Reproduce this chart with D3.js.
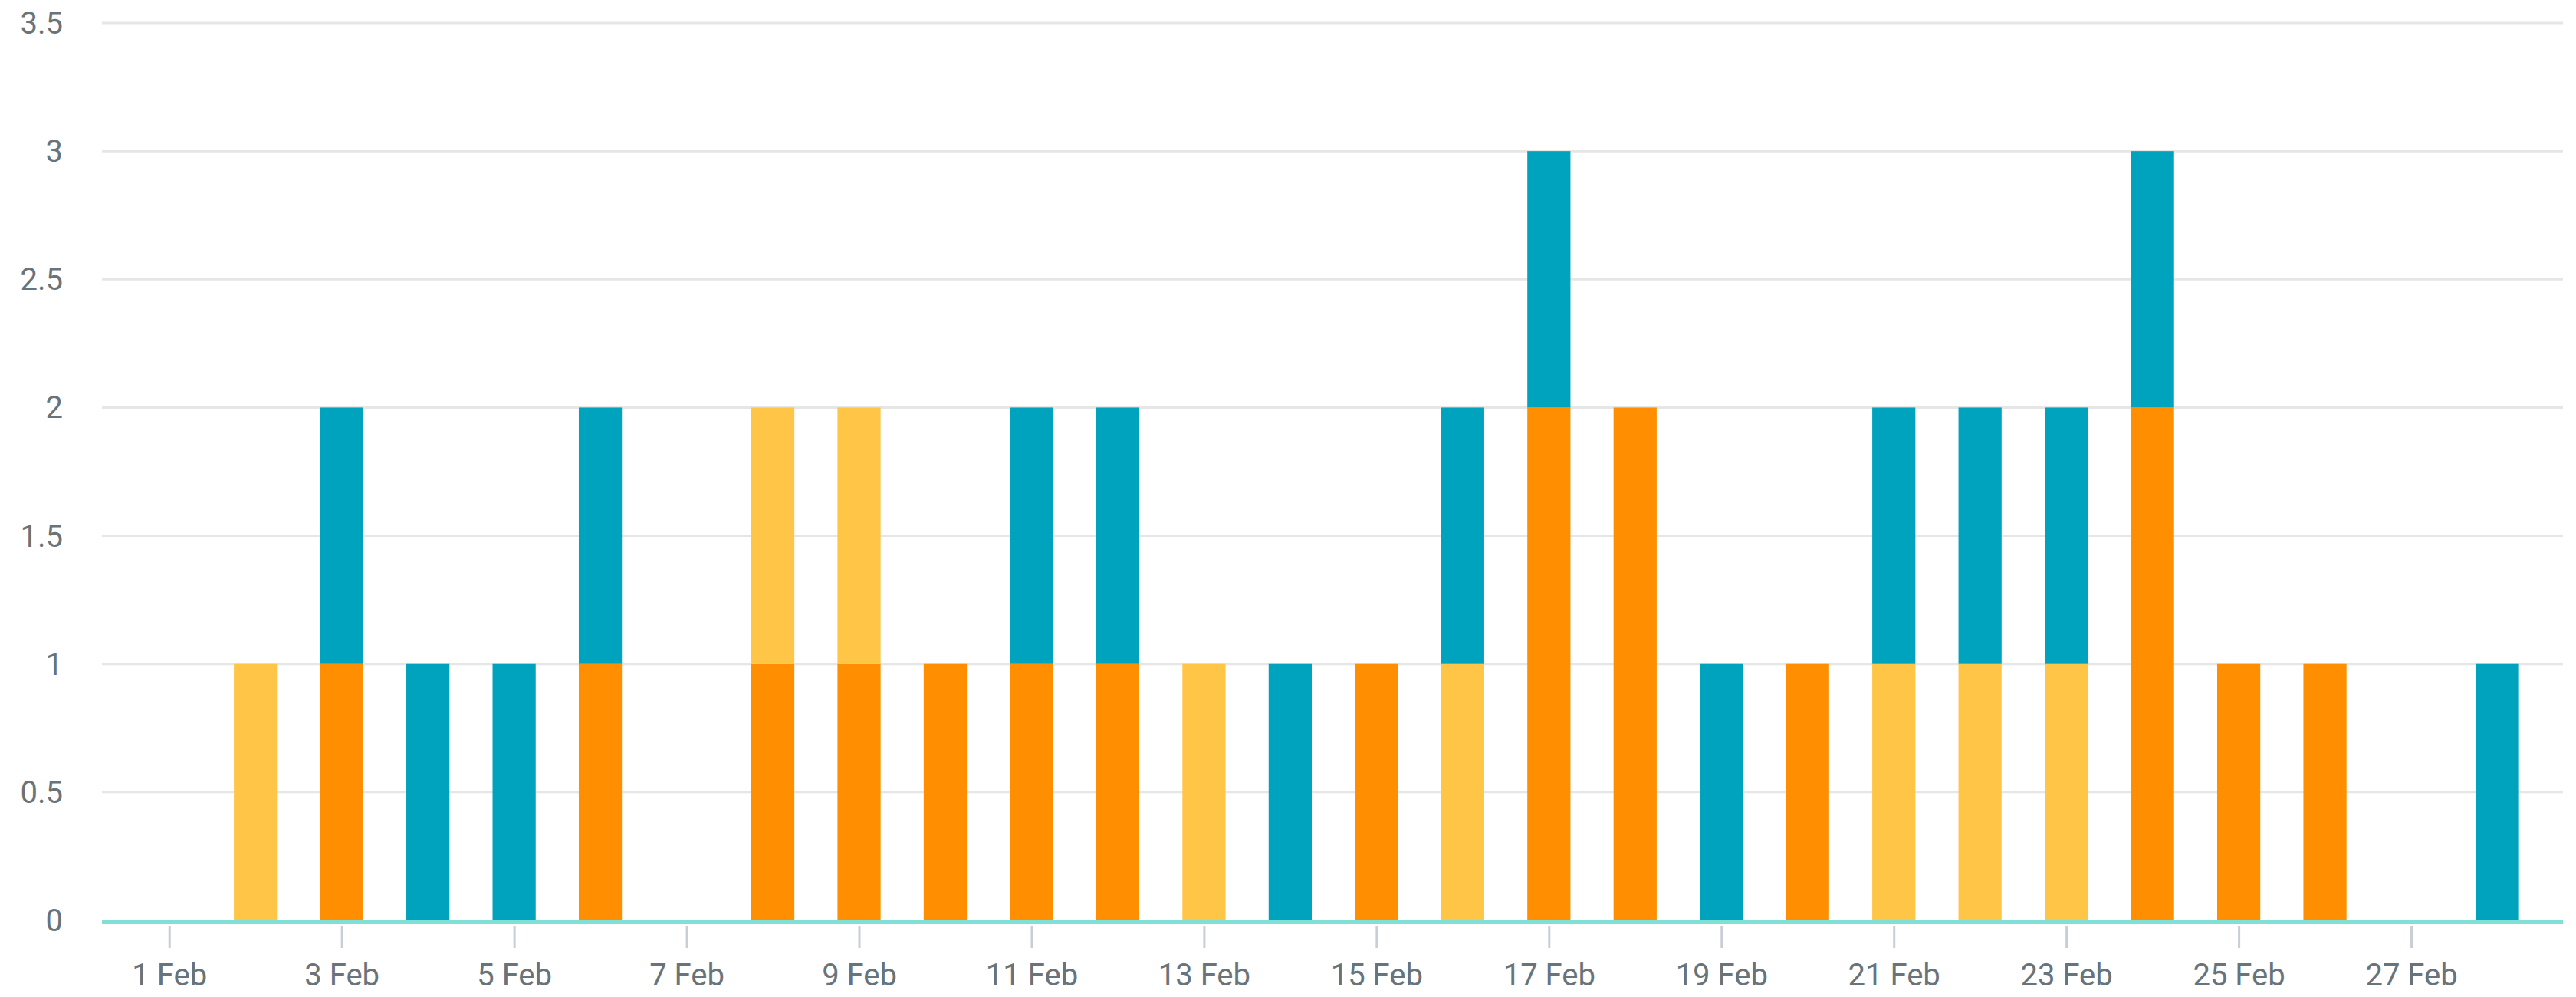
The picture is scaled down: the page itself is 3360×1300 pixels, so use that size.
<!DOCTYPE html>
<html>
<head>
<meta charset="utf-8">
<script src="https://cdn.jsdelivr.net/npm/d3@7.9.0/dist/d3.min.js"></script>
<style>
  html, body { margin: 0; padding: 0; background: #fff; }
  svg { display: block; }
</style>
</head>
<body>
<div id="chart"></div>
<script>
// ---- data (1 Feb .. 28 Feb) ----
const days = d3.range(1, 29);
const orangeValues = [0,0,1,0,0,1,0,1,1,1,1,1,0,0,1,0,2,2,0,1,0,0,0,2,1,1,0,0];
const yellowValues = [0,1,0,0,0,0,0,1,1,0,0,0,1,0,0,1,0,0,0,0,1,1,1,0,0,0,0,0];
const tealValues   = [0,0,1,1,1,1,0,0,0,0,1,1,0,1,0,1,1,0,1,0,1,1,1,1,0,0,0,1];
const yTicks = [0, 0.5, 1, 1.5, 2, 2.5, 3, 3.5];

const SERIES = ['orange', 'yellow', 'teal'];
const COLORS = { orange: '#ff8f00', yellow: '#ffc547', teal: '#00a3bd' };
const TEXT_COLOR = '#68737a';
const GRID_COLOR = '#e6e6e6';
const AXIS_COLOR = '#80e0d5';
const TICK_COLOR = '#c9ced6';
const FONT = 'Roboto, "Noto Sans", sans-serif';

const width = 3360, height = 1300;
const margin = { top: 30, right: 17, bottom: 100, left: 133 };

const rows = days.map((d, i) => ({
    date: new Date(Date.UTC(2021, 1, d)),
    orange: orangeValues[i],
    yellow: yellowValues[i],
    teal: tealValues[i],
}));

const DAY = 864e5;
const x = d3.scaleUtc()
    .domain([new Date(rows[0].date - 0.78 * DAY), new Date(+rows[rows.length - 1].date + 0.76 * DAY)])
    .range([margin.left, width - margin.right]);

const y = d3.scaleLinear()
    .domain([0, 3.5])
    .range([height - margin.bottom, margin.top]);

const barWidth = (x(rows[1].date) - x(rows[0].date)) * 0.5;

const svg = d3.select('#chart')
    .append('svg')
    .attr('width', width)
    .attr('height', height)
    .attr('viewBox', `0 0 ${width} ${height}`);

// Gridlines
svg.append('g')
    .selectAll('line')
    .data(yTicks.filter(t => t > 0))
    .join('line')
    .attr('x1', margin.left)
    .attr('x2', width - margin.right)
    .attr('y1', d => y(d))
    .attr('y2', d => y(d))
    .attr('stroke', GRID_COLOR)
    .attr('stroke-width', 3);

// Y labels
svg.append('g')
    .selectAll('text')
    .data(yTicks)
    .join('text')
    .attr('x', 82)
    .attr('y', d => y(d))
    .attr('dy', '0.35em')
    .attr('text-anchor', 'end')
    .attr('fill', TEXT_COLOR)
    .attr('font-size', '40px')
    .attr('font-family', FONT)
    .text(d => d3.format('~g')(d));

// Stacked bars
const stack = d3.stack().keys(SERIES)(rows);

svg.append('g')
    .selectAll('g')
    .data(stack)
    .join('g')
    .attr('fill', d => COLORS[d.key])
    .selectAll('rect')
    .data(d => d.filter(p => p[1] - p[0] > 0))
    .join('rect')
    .attr('x', d => x(d.data.date) - barWidth / 2)
    .attr('width', barWidth)
    .attr('y', d => y(d[1]))
    .attr('height', d => y(d[0]) - y(d[1]));

// X axis
const xAxis = d3.axisBottom(x)
    .ticks(d3.utcDay.filter(d => (d.getUTCDate() - 1) % 2 === 0 && d.getUTCDate() < 29))
    .tickFormat(d3.utcFormat('%-d %b'))
    .tickSize(28)
    .tickPadding(21);

const gx = svg.append('g')
    .attr('transform', `translate(0,${y(0) + 8})`)
    .call(xAxis);

gx.select('.domain').remove();
gx.selectAll('.tick line')
    .attr('stroke', TICK_COLOR)
    .attr('stroke-width', 3);
gx.selectAll('.tick text')
    .attr('fill', TEXT_COLOR)
    .attr('font-size', '40px')
    .attr('font-family', FONT);

// Base line
svg.append('line')
    .attr('x1', margin.left)
    .attr('x2', width - margin.right)
    .attr('y1', y(0) + 2)
    .attr('y2', y(0) + 2)
    .attr('stroke', AXIS_COLOR)
    .attr('stroke-width', 6);
</script>
</body>
</html>
